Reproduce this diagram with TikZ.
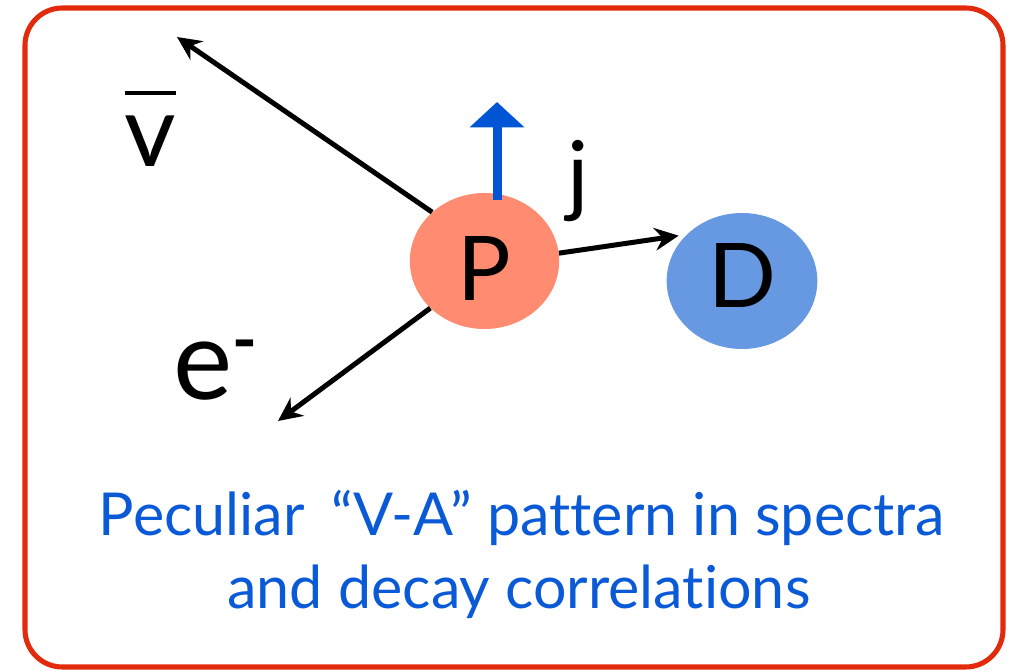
\documentclass[tikz,border=0pt]{standalone}
\usepackage{fontspec}
\setmainfont{Lato}[Ligatures=NoCommon]
\usetikzlibrary{shapes.geometric,arrows.meta}
\definecolor{frame}{RGB}{226,42,12}
\definecolor{parent}{RGB}{255,140,112}
\definecolor{daughter}{RGB}{102,153,226}
\definecolor{spinblue}{RGB}{0,85,213}
\definecolor{captionblue}{RGB}{10,90,216}
\tikzset{
  particle/.style={ellipse, inner sep=0pt, minimum width=112pt, minimum height=102pt},
  letter/.style={inner sep=0pt, font=\fontsize{67}{70}\selectfont},
  label/.style={inner sep=0pt},
  track/.style={line width=3.75pt, -{Stealth[length=18pt,width=17pt,inset=6pt]}},
  spin/.style={draw=spinblue, line width=6.75pt, -{Triangle[length=19pt,width=40pt]}},
  caption/.style={inner sep=0pt, text=captionblue, font=\fontsize{44.4}{50}\selectfont, anchor=base}
}
\begin{document}
\begin{tikzpicture}[x=0.75pt,y=-0.75pt]
\useasboundingbox (0,0) rectangle (1025,670);
% frame
\draw[frame, line width=3.8pt, rounded corners=28pt] (25,8) rectangle (1003,667);

% decaying nucleus and daughter
\node[particle, fill=parent] (P) at (484.5,261) {};
\node[particle, fill=daughter, minimum width=113pt] (D) at (742,281) {};
\node[letter] (Pl) at (484,268.5) {P};
\node[letter] (Dl) at (742,275) {D};

% nuclear spin
\coordinate (s0) at (497,200);
\coordinate (s1) at (497,102);
\draw[spin] (s0) -- (s1);

% emitted leptons and recoil
\coordinate (nutip) at (177,37);
\coordinate (etip) at (278,421);
\draw[track] (P.137) -- (nutip);
\draw[track] (P.221) -- (etip);
\draw[track, shorten >=6pt] (P.6) -- (D.140);

% labels
\node[label, font=\fontsize{75}{80}\selectfont] (nu) at (150.5,128.5)
  {\vbox{\hrule height 3pt\kern 16pt\hbox{v}}};
\node[label, anchor=base west, font=\fontsize{84}{90}\selectfont] (el) at (173,400)
  {e\raisebox{0.33em}{\fontsize{50}{50}\selectfont\bfseries -}};
\node[label, font=\fontsize{67}{70}\selectfont] (jl) at (578,181) {j};

% caption
\node[caption] (cap1) at (522,535) {Peculiar\hspace{0.2em} “V-A” pattern in spectra};
\node[caption] (cap2) at (519,608) {and decay correlations};
\end{tikzpicture}
\end{document}
